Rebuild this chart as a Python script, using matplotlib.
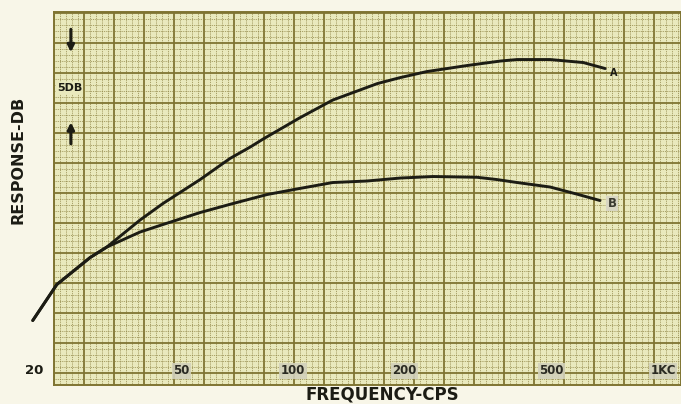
import numpy as np
import matplotlib
matplotlib.use("Agg")
import matplotlib.pyplot as plt

# --- DATA ---
freq_a = [19.8, 23.0, 28.3, 31.4, 38.6, 44.5, 56.1, 67.5, 77.0, 83.0, 104, 128, 169, 195, 230, 295, 363, 403, 495, 608, 697]
resp_a = [4.3, 6.7, 8.5, 9.2, 11.0, 12.1, 13.7, 15.1, 15.9, 16.4, 17.8, 19.0, 20.1, 20.5, 20.9, 21.3, 21.6, 21.7, 21.7, 21.5, 21.1]

freq_b = [19.8, 23.0, 28.3, 31.4, 38.6, 44.5, 56.1, 68.8, 85.1, 104, 128, 158, 195, 239, 314, 355, 403, 495, 590, 675]
resp_b = [4.3, 6.7, 8.5, 9.2, 10.2, 10.7, 11.5, 12.1, 12.7, 13.1, 13.5, 13.6, 13.8, 13.9, 13.85, 13.7, 13.5, 13.2, 12.7, 12.3]

tick_freqs  = [20, 50, 100, 200, 500, 1000]
tick_labels = ["20", "50", "100", "200", "500", "1KC"]
# -----------------------------------------

PAPER    = "#e9e9bd"
MAJOR    = "#7f7432"
MINOR    = "#8f8545"
INK      = "#1c1c14"

fig = plt.figure(figsize=(6.81, 4.04), dpi=100, facecolor="#f8f6e8")
ax = fig.add_axes([54 / 681, 1 - 385 / 404, 627 / 681, 373 / 404])
ax.set_facecolor(PAPER)
ax.set_xscale("log")
ax.set_xlim(22.6, 1117)
ax.set_ylim(0, 24.87)
ax.set_xticks([])
ax.set_yticks([])
ax.minorticks_off()
for s in ax.spines.values():
    s.set_color(MAJOR)
    s.set_linewidth(1.4)

# graph paper: fine squares every ~6 px, heavy lines every ~30 px
W, H = 627.0, 373.0
for px in np.arange(0, W, 6.0):
    heavy = int(round(px / 6.0)) % 5 == 0
    ax.plot([px / W, px / W], [0, 1], transform=ax.transAxes,
            color=MAJOR if heavy else MINOR,
            lw=1.3 if heavy else 0.55,
            ls="-" if heavy else (0, (1.2, 1.2)), zorder=1)
for py in np.arange(H - 1, 0, -6.0):
    heavy = int(round((H - 1 - py) / 6.0)) % 5 == 0
    ax.plot([0, 1], [py / H, py / H], transform=ax.transAxes,
            color=MAJOR if heavy else MINOR,
            lw=1.3 if heavy else 0.55,
            ls="-" if heavy else (0, (1.2, 1.2)), zorder=1)

# response curves
ax.plot(freq_a, resp_a, color=INK, lw=2.1, solid_capstyle="round", solid_joinstyle="round",
        clip_on=False, zorder=5)
ax.plot(freq_b, resp_b, color=INK, lw=2.1, solid_capstyle="round", solid_joinstyle="round",
        clip_on=False, zorder=5)
ax.text(735, 20.8, "A", fontsize=7, fontweight="bold", color=INK, ha="center", va="center", zorder=6)
ax.text(727, 12.1, "B", fontsize=8.5, fontweight="bold", color="#3a3a30", ha="center", va="center", zorder=6,
        bbox=dict(facecolor="#d8d6c2", edgecolor="none", pad=0.8))

# frequency labels along the bottom of the paper
for f, lab in zip(tick_freqs, tick_labels):
    if f == 20:
        ax.text(f, 1.0, lab, fontsize=9.5, fontweight="bold", color=INK,
                ha="center", va="center", clip_on=False)
    else:
        ax.text(f, 0.95, lab, fontsize=8.5, fontweight="bold", color="#2a2a22",
                ha="center", va="center", zorder=6,
                bbox=dict(facecolor="#d2d1bb", edgecolor="none", pad=1.0, alpha=0.9))

# 5 dB scale marker
ax.annotate("", xy=(25.1, 22.0), xytext=(25.1, 23.9),
            arrowprops=dict(arrowstyle="-|>", color=INK, lw=2.2, mutation_scale=10), zorder=6)
ax.annotate("", xy=(25.1, 17.7), xytext=(25.1, 15.9),
            arrowprops=dict(arrowstyle="-|>", color=INK, lw=2.2, mutation_scale=10), zorder=6)
ax.text(24.9, 19.8, "5DB", fontsize=8, fontweight="bold", color=INK,
        ha="center", va="center", zorder=6,
        bbox=dict(facecolor=PAPER, edgecolor="none", pad=0.6))

fig.text(18 / 681, 1 - 160 / 404, "RESPONSE-DB", rotation=90, fontsize=11.5,
         fontweight="bold", color=INK, ha="center", va="center")
fig.text(382 / 681, 1 - 395 / 404, "FREQUENCY-CPS", fontsize=12,
         fontweight="bold", color=INK, ha="center", va="center")

fig.savefig("out.png", dpi=100, facecolor=fig.get_facecolor())
